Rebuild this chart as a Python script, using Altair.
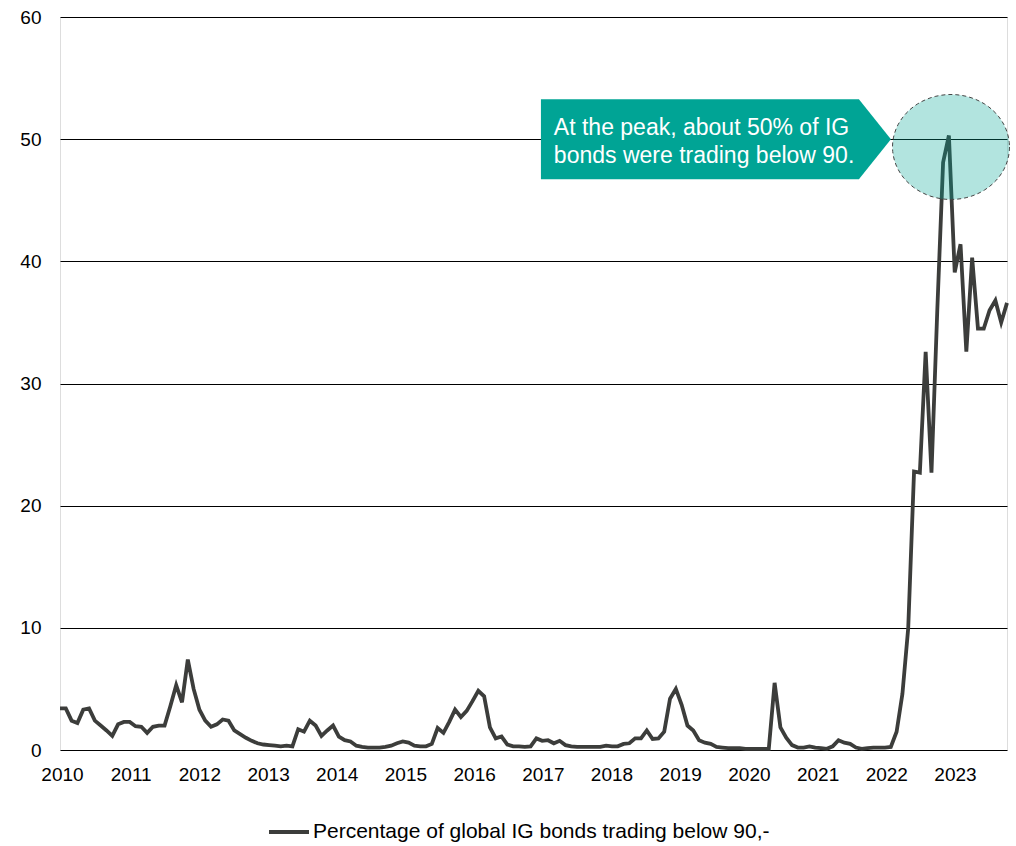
import math
import altair as alt
import pandas as pd

# Monthly share (%) of global IG bonds trading below 90, Jan 2010 .. Aug 2023
pct_2010 = [3.4, 3.4, 2.4, 2.2, 3.3, 3.4, 2.4, 2.0, 1.6, 1.15, 2.1, 2.3]
pct_2011 = [2.3, 1.95, 1.9, 1.4, 1.9, 2.0, 2.0, 3.6, 5.3, 3.9, 7.4, 5.0]
pct_2012 = [3.3, 2.4, 1.9, 2.1, 2.5, 2.4, 1.6, 1.3, 1.0, 0.75, 0.55, 0.45]
pct_2013 = [0.4, 0.35, 0.3, 0.35, 0.3, 1.7, 1.5, 2.4, 2.0, 1.15, 1.6, 2.0]
pct_2014 = [1.1, 0.8, 0.7, 0.35, 0.25, 0.2, 0.2, 0.2, 0.25, 0.35, 0.55, 0.7]
pct_2015 = [0.6, 0.35, 0.3, 0.3, 0.5, 1.8, 1.4, 2.3, 3.3, 2.7, 3.2, 4.0]
pct_2016 = [4.85, 4.4, 1.85, 0.95, 1.1, 0.45, 0.3, 0.3, 0.25, 0.3, 0.95, 0.75]
pct_2017 = [0.8, 0.55, 0.75, 0.4, 0.3, 0.25, 0.25, 0.25, 0.25, 0.25, 0.35, 0.3]
pct_2018 = [0.3, 0.5, 0.55, 0.95, 0.95, 1.6, 0.9, 0.95, 1.5, 4.2, 5.0, 3.7]
pct_2019 = [2.0, 1.6, 0.8, 0.6, 0.5, 0.25, 0.2, 0.15, 0.15, 0.15, 0.1, 0.1]
pct_2020 = [0.1, 0.1, 0.1, 5.5, 1.85, 1.0, 0.4, 0.2, 0.2, 0.3, 0.2, 0.15]
pct_2021 = [0.1, 0.3, 0.8, 0.6, 0.5, 0.2, 0.1, 0.15, 0.2, 0.2, 0.2, 0.25]
pct_2022 = [1.5, 4.6, 10.0, 22.8, 22.7, 32.6, 22.7, 36.0, 48.1, 50.3, 39.1, 41.4]
pct_2023 = [32.6, 40.3, 34.5, 34.5, 36.0, 36.8, 35.0, 36.6]

first_year = 2010
years = list(range(2010, 2024))
series_name = "Percentage of global IG bonds trading below 90,-"
y_ticks = [0, 10, 20, 30, 40, 50, 60]
note_lines = ["At the peak, about 50% of IG", "bonds were trading below 90."]

values = (pct_2010 + pct_2011 + pct_2012 + pct_2013 + pct_2014 + pct_2015 +
          pct_2016 + pct_2017 + pct_2018 + pct_2019 + pct_2020 + pct_2021 +
          pct_2022 + pct_2023)
months = list(range(len(values)))
df = pd.DataFrame({"month": months, "pct": values, "series": series_name})
last_month = len(values) - 1

# year labels as placed on the source's category axis (in month-index units)
label_start, label_step = 0.344, 11.823
tick_months = [round(label_start + label_step * (y - first_year), 3) for y in years]

FONT = "Liberation Sans"
TEAL = "#00A495"
LINE = "#3c3d3b"

x_scale = alt.Scale(domain=[0, last_month], nice=False, zero=False)
y_scale = alt.Scale(domain=[0, 60], nice=False)

line = alt.Chart(df).mark_line(strokeWidth=3.8, strokeJoin="miter").encode(
    x=alt.X("month:Q", scale=x_scale,
            axis=alt.Axis(values=tick_months, title=None, grid=False, domain=False,
                          ticks=False, tickSize=0, labelPadding=15,
                          labelExpr=f"{first_year} + round((datum.value - {label_start}) / {label_step})",
                          labelFontSize=19, labelFont=FONT, labelColor="#000",
                          labelFlush=False, labelOverlap=False)),
    y=alt.Y("pct:Q", scale=y_scale,
            axis=alt.Axis(values=y_ticks, title=None, grid=True, gridColor="#000",
                          gridWidth=1, gridOpacity=1, domain=False, ticks=False,
                          tickSize=0, labelPadding=19, labelFontSize=19,
                          labelFont=FONT, labelColor="#000")),
    color=alt.Color("series:N", scale=alt.Scale(range=[LINE]),
                    legend=alt.Legend(title=None, orient="none", legendX=207,
                                      legendY=793, symbolType="stroke",
                                      symbolSize=1600, symbolStrokeWidth=4,
                                      labelFontSize=21, labelFont=FONT,
                                      labelColor="#000", labelOffset=2,
                                      padding=0, labelLimit=0)),
)

# Ellipse highlighting the peak (unit path, scaled by the symbol size)
ell_w, ell_h = 117.0, 105.0
pts = []
for i in range(72):
    t = 2 * math.pi * i / 72
    pts.append((math.cos(t), (ell_h / ell_w) * math.sin(t)))
ellipse_path = "M " + " L ".join(f"{a:.4f} {b:.4f}" for a, b in pts) + " Z"

# Callout box with arrow tip
box_w, box_h, tip_w = 350.0, 80.0, 32.0
hy = box_h / box_w
kx = 1.0 - 2 * tip_w / box_w
callout_path = (f"M -1 {-hy:.4f} L {kx:.4f} {-hy:.4f} L 1 0 L {kx:.4f} {hy:.4f} "
                f"L -1 {hy:.4f} Z")

ann_ellipse = pd.DataFrame({"month": [153.36], "pct": [49.36]})
ann_box = pd.DataFrame({"month": [112.9], "pct": [50.0]})
ann_text = pd.DataFrame({"month": [85.0, 85.0], "pct": [50.34, 48.07],
                         "txt": note_lines})

ellipse = alt.Chart(ann_ellipse).mark_point(
    shape=ellipse_path, size=ell_w ** 2, fill=TEAL, fillOpacity=0.3,
    stroke="#444", strokeWidth=1, strokeDash=[4, 3], opacity=1, filled=True,
).encode(x=alt.X("month:Q", scale=x_scale), y=alt.Y("pct:Q", scale=y_scale))

box = alt.Chart(ann_box).mark_point(
    shape=callout_path, size=box_w ** 2, fill=TEAL, fillOpacity=1,
    strokeWidth=0, opacity=1, filled=True,
).encode(x=alt.X("month:Q", scale=x_scale), y=alt.Y("pct:Q", scale=y_scale))

text = alt.Chart(ann_text).mark_text(
    align="left", baseline="alphabetic", fontSize=23, font=FONT, color="#ffffff",
).encode(x=alt.X("month:Q", scale=x_scale), y=alt.Y("pct:Q", scale=y_scale),
         text="txt:N")

chart = alt.layer(line, ellipse, box, text).properties(
    width=947, height=733,
    autosize=alt.AutoSizeParams(type="none"),
    padding={"left": 60, "top": 17, "right": 9, "bottom": 96},
).configure_view(stroke=None).configure(font=FONT)

chart.save("out.html", embed_options={"renderer": "svg", "actions": False})
